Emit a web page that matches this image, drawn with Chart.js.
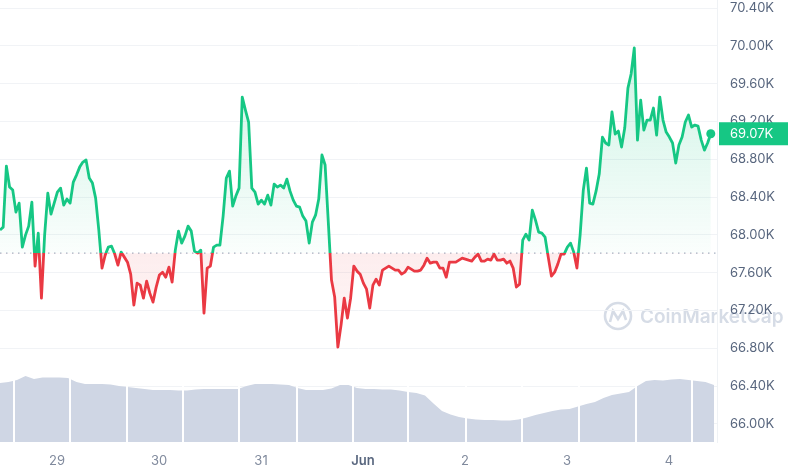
<!DOCTYPE html>
<html lang="en">
<head>
    <meta charset="UTF-8">
    <title>BTC price 7D</title>
    <style>
        body { margin: 0; padding: 0; background: #ffffff; overflow: hidden; }
        canvas { display: block; }
    </style>
    <script src="https://cdn.jsdelivr.net/npm/chart.js"></script>
</head>
<body>
    <canvas id="priceChart" width="788" height="475"></canvas>

    <script>
        // time is in days, 0 = May 29 00:00
        const startDay = -0.559;
        const priceStep = 1 / 32;     // 45 min
        const volumeStep = 1 / 12;    // 2 h
        const endDay = 6.4706;

        const xTickDays = [0, 1, 2, 3, 4, 5, 6];
        const xLabels = ['29', '30', '31', 'Jun', '2', '3', '4'];
        const yTicks = [66000, 66400, 66800, 67200, 67600, 68000, 68400, 68800, 69200, 69600, 70000, 70400];

        const refPrice = 67807;

        const prices = [
            68051, 68082, 68728, 68506, 68474, 68241, 68336, 67871, 67998, 68093,
            68347, 67670, 68019, 67331, 67998, 68442, 68220, 68336, 68453, 68495,
            68315, 68379, 68336, 68559, 68633, 68717, 68770, 68792, 68601, 68548,
            68389, 68051, 67649, 67786, 67871, 67881, 67797, 67680, 67818, 67765,
            67712, 67585, 67257, 67490, 67469, 67331, 67511, 67384, 67289, 67448,
            67575, 67606, 67553, 67659, 67501, 67839, 68040, 67913, 67987, 68093,
            68040, 67829, 67807, 67839, 67173, 67649, 67670, 67871, 67892, 67892,
            68199, 68601, 68675, 68305, 68411, 68495, 69458, 69320, 69194, 68495,
            68453, 68326, 68368, 68326, 68421, 68315, 68537, 68506, 68527, 68495,
            68590, 68463, 68368, 68305, 68294, 68199, 68146, 67913, 68135, 68209,
            68379, 68845, 68739, 68135, 67522, 67342, 66813, 67046, 67331, 67120,
            67331, 67670, 67617, 67585, 67490, 67426, 67226, 67469, 67532, 67469,
            67628, 67649, 67670, 67649, 67628, 67628, 67585, 67606, 67659, 67638,
            67617, 67617, 67628, 67680, 67754, 67701, 67712, 67712, 67649, 67649,
            67553, 67712, 67712, 67712, 67733, 67754, 67744, 67733, 67723, 67765,
            67797, 67723, 67723, 67744, 67733, 67797, 67733, 67733, 67744, 67701,
            67723, 67649, 67448, 67479, 67945, 68008, 67945, 68262, 68157, 68030,
            68019, 67977, 67765, 67564, 67606, 67691, 67797, 67797, 67871, 67913,
            67818, 67649, 67998, 68474, 68707, 68336, 68326, 68463, 68643, 69035,
            68972, 68950, 69300, 69067, 69098, 68929, 69130, 69553, 69702, 69977,
            69003, 69426, 69109, 69215, 69215, 69342, 69056, 69458, 69215, 69088,
            69035, 68972, 68760, 68950, 69035, 69194, 69268, 69141, 69162, 69151,
            69003, 68897, 68972, 69070
        ];

        // volume in $B per 2h bucket (approx.)
        const volumes = [
            29.5, 30.0, 31.0, 33.0, 31.5, 32.3, 32.3, 32.3, 32.0, 30.0,
            29.0, 29.0, 29.0, 28.8, 28.0, 27.5, 27.0, 26.5, 26.0, 26.0,
            26.0, 25.8, 25.8, 26.3, 26.5, 26.5, 26.5, 26.5, 26.5, 28.0,
            29.0, 29.0, 29.0, 28.8, 28.5, 27.0, 26.0, 26.0, 26.0, 26.8,
            28.5, 28.5, 27.0, 26.5, 26.5, 26.3, 26.3, 25.8, 25.0, 24.5,
            23.3, 19.3, 15.5, 13.8, 12.5, 11.8, 11.3, 11.0, 11.0, 10.8,
            10.8, 11.3, 12.3, 13.5, 14.5, 15.5, 16.3, 16.5, 17.8, 19.0,
            20.0, 22.0, 23.5, 24.3, 25.0, 28.0, 30.5, 31.0, 30.8, 31.3,
            31.5, 31.0, 30.5, 30.0, 28.5
        ];
        const volBreaks = [-0.4216, 0.1275, 0.6863, 1.2353, 1.7843, 2.3529, 2.9020,
            3.4412, 4.0098, 4.5588, 5.1176, 5.6765, 6.2255];

        const GREEN = '#16c784';
        const RED = '#ea3943';

        const priceData = prices.map((p, i) => ({ x: startDay + i * priceStep, y: p }));
        const volumeData = volumes.map((v, i) => ({ x: startDay + i * volumeStep, y: v }));

        function basePos(chart) {
            const area = chart.chartArea;
            const yb = chart.scales.y.getPixelForValue(refPrice);
            return (yb - area.top) / (area.bottom - area.top);
        }

        function lineGradient(ctx) {
            const chart = ctx.chart;
            if (!chart.chartArea) return GREEN;
            const area = chart.chartArea;
            const f = basePos(chart);
            const g = chart.ctx.createLinearGradient(0, area.top, 0, area.bottom);
            g.addColorStop(0, GREEN);
            g.addColorStop(f, GREEN);
            g.addColorStop(f, RED);
            g.addColorStop(1, RED);
            return g;
        }

        function fillGradient(ctx) {
            const chart = ctx.chart;
            if (!chart.chartArea) return 'rgba(22,199,132,0.1)';
            const area = chart.chartArea;
            const f = basePos(chart);
            const g = chart.ctx.createLinearGradient(0, area.top, 0, area.bottom);
            g.addColorStop(0, 'rgba(22,199,132,0.26)');
            g.addColorStop(f, 'rgba(22,199,132,0.02)');
            g.addColorStop(f, 'rgba(234,57,67,0.09)');
            g.addColorStop(Math.min(1, f + 0.25), 'rgba(234,57,67,0.03)');
            return g;
        }

        // watermark behind everything
        const watermark = {
            id: 'watermark',
            beforeDraw(chart) {
                const c = chart.ctx;
                c.save();
                c.strokeStyle = '#d6dce6';
                c.fillStyle = '#d6dce6';
                c.lineWidth = 2.6;
                c.beginPath();
                c.arc(618, 316, 13, 0, Math.PI * 2);
                c.stroke();
                c.beginPath();
                c.moveTo(610, 322);
                c.lineTo(613, 311);
                c.lineTo(618, 319);
                c.lineTo(623, 311);
                c.lineTo(626, 320);
                c.stroke();
                c.font = '600 19px Inter';
                c.textBaseline = 'middle';
                c.fillText('CoinMarketCap', 640, 317);
                c.restore();
            }
        };

        // white separators in the volume area + current price tag
        const extras = {
            id: 'extras',
            afterDatasetsDraw(chart) {
                const c = chart.ctx;
                const x = chart.scales.x;
                const yv = chart.scales.yVol;
                c.save();
                c.strokeStyle = '#ffffff';
                c.lineWidth = 2;
                volBreaks.forEach(t => {
                    const px = Math.round(x.getPixelForValue(t));
                    c.beginPath();
                    c.moveTo(px, yv.getPixelForValue(40));
                    c.lineTo(px, yv.getPixelForValue(0));
                    c.stroke();
                });
                c.restore();
            },
            afterDraw(chart) {
                const c = chart.ctx;
                const last = prices[prices.length - 1];
                const py = chart.scales.y.getPixelForValue(last);
                const left = chart.chartArea.right + 2;
                c.save();
                c.fillStyle = GREEN;
                c.fillRect(left, py - 11.5, chart.width - left, 23);
                c.fillStyle = '#ffffff';
                c.font = '13px Inter';
                c.textBaseline = 'middle';
                c.fillText((last / 1000).toFixed(2) + 'K', 730, py + 0.5);
                c.restore();
            }
        };

        new Chart(document.getElementById('priceChart'), {
            type: 'line',
            data: {
                datasets: [
                    {
                        data: priceData,
                        yAxisID: 'y',
                        borderColor: lineGradient,
                        backgroundColor: fillGradient,
                        borderWidth: 2.8,
                        borderJoinStyle: 'round',
                        fill: { value: refPrice },
                        tension: 0,
                        pointRadius: (c) => c.dataIndex === prices.length - 1 ? 4.5 : 0,
                        pointBackgroundColor: GREEN,
                        pointBorderWidth: 0,
                        order: 0
                    },
                    {
                        data: [{ x: startDay, y: refPrice }, { x: endDay, y: refPrice }],
                        yAxisID: 'y',
                        borderColor: '#a7b1c2',
                        borderWidth: 1.3,
                        borderDash: [1.5, 4.5],
                        pointRadius: 0,
                        fill: false,
                        order: 1
                    },
                    {
                        data: volumeData,
                        yAxisID: 'yVol',
                        borderWidth: 0,
                        backgroundColor: '#cfd6e4',
                        fill: 'origin',
                        pointRadius: 0,
                        tension: 0,
                        order: 2
                    }
                ]
            },
            options: {
                responsive: false,
                animation: false,
                events: [],
                layout: { padding: 0, autoPadding: false },
                plugins: {
                    legend: { display: false },
                    tooltip: { enabled: false }
                },
                scales: {
                    x: {
                        type: 'linear',
                        min: startDay,
                        max: endDay,
                        grid: { display: false, drawTicks: false },
                        border: { display: false },
                        afterBuildTicks: (s) => { s.ticks = xTickDays.map(v => ({ value: v })); },
                        afterFit: (s) => { s.height = 33; s.paddingLeft = 0; s.paddingRight = 0; },
                        ticks: {
                            autoSkip: false,
                            maxRotation: 0,
                            padding: 11,
                            color: (c) => c.tick && c.tick.value === 3 ? '#58667e' : '#808a9d',
                            font: (c) => ({ family: 'Inter', size: 13, weight: c.tick && c.tick.value === 3 ? '600' : '400' }),
                            callback: (v) => {
                                const k = xTickDays.indexOf(v);
                                return k >= 0 ? xLabels[k] : '';
                            }
                        }
                    },
                    y: {
                        position: 'right',
                        min: 65809.5,
                        max: 70484.7,
                        grid: { color: '#f1f3f6', drawTicks: false },
                        border: { display: true, color: '#eff2f5' },
                        afterBuildTicks: (s) => { s.ticks = yTicks.map(v => ({ value: v })); },
                        afterFit: (s) => { s.width = 71; s.paddingTop = 0; s.paddingBottom = 0; },
                        ticks: {
                            padding: 13,
                            color: '#58667e',
                            font: { family: 'Inter', size: 13 },
                            callback: (v) => (v / 1000).toFixed(2) + 'K'
                        }
                    },
                    yVol: {
                        display: false,
                        min: 0,
                        max: 221
                    }
                }
            },
            plugins: [watermark, extras]
        });
    </script>
</body>
</html>
